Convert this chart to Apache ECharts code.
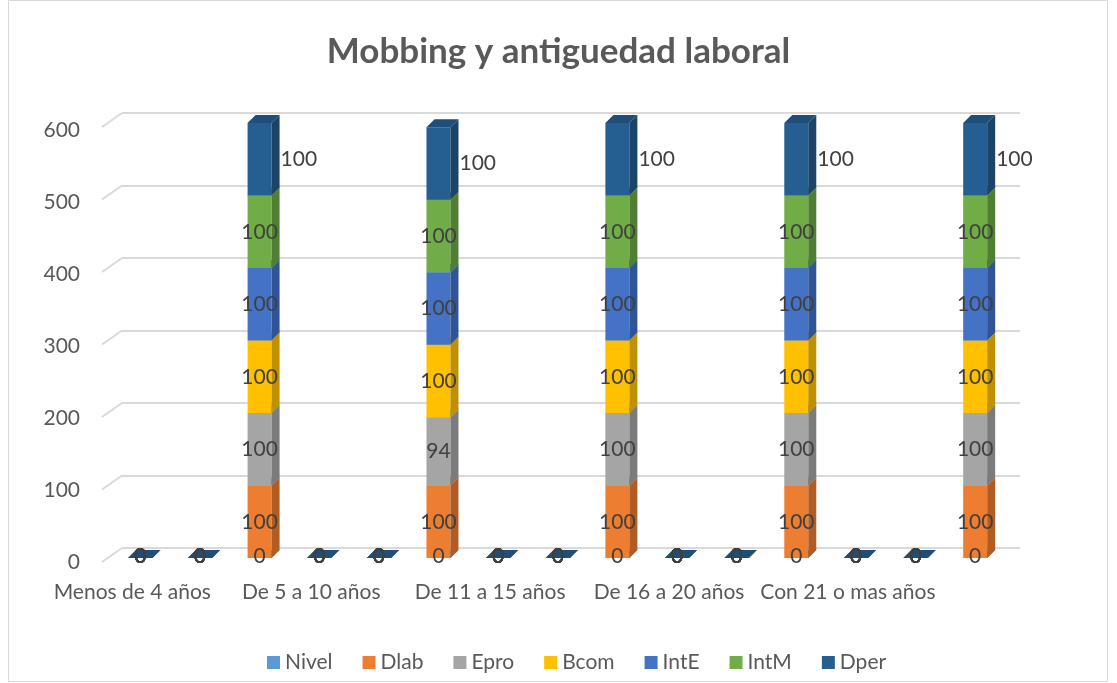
<!DOCTYPE html>
<html>
<head>
<meta charset="utf-8">
<script src="https://cdn.jsdelivr.net/npm/echarts@6/dist/echarts.min.js"></script>
<style>
html,body{margin:0;padding:0;background:#fff;}
#c{width:1117px;height:683px;}
</style>
</head>
<body>
<div id="c"></div>
<script>
const categories = ["Menos de 4 años","","","De 5 a 10 años","","","De 11 a 15 años","","","De 16 a 20 años","","","Con 21 o mas años","",""];
const seriesNames = ["Nivel","Dlab","Epro","Bcom","IntE","IntM","Dper"];
const nivel = [0,0,0,0,0,0,0,0,0,0,0,0,0,0,0];
const dlab  = [0,0,100,0,0,100,0,0,100,0,0,100,0,0,100];
const epro  = [0,0,100,0,0,94,0,0,100,0,0,100,0,0,100];
const bcom  = [0,0,100,0,0,100,0,0,100,0,0,100,0,0,100];
const inte  = [0,0,100,0,0,100,0,0,100,0,0,100,0,0,100];
const intm  = [0,0,100,0,0,100,0,0,100,0,0,100,0,0,100];
const dper  = [0,0,100,0,0,100,0,0,100,0,0,100,0,0,100];
const yTicks = [0,100,200,300,400,500,600];

const seriesValues = [nivel, dlab, epro, bcom, inte, intm, dper];
const colors = ["#5B9BD5","#ED7D31","#A5A5A5","#FFC000","#4472C4","#70AD47","#255E91"];
const sideColors = ["#41719C","#B05C22","#7B7B7B","#BF9000","#2F5597","#507E32","#1B4468"];
const topColors = ["#4F86B8","#D06A28","#919191","#E0A800","#3A62AA","#5F953C","#1F4E79"];
const FONT = "Lato, 'Open Sans', sans-serif";
const TXT = "#595959";
const LABEL_FONT = '21px ' + FONT;

const chart = echarts.init(document.getElementById('c'));

const W = 24, DX = 8, DY = -8;

function makeSeries(k) {
  const vals = seriesValues[k];
  const data = vals.map((v, i) => {
    let base = 0;
    for (let j = 0; j < k; j++) base += seriesValues[j][i];
    return [i, base, v];
  });
  return {
    type: 'custom',
    name: seriesNames[k],
    xAxisIndex: 1, yAxisIndex: 1,
    itemStyle: { color: colors[k] },
    clip: false,
    data: data,
    renderItem: function (params, api) {
      const i = api.value(0), base = api.value(1), v = api.value(2);
      const p0 = api.coord([i, base]);
      const p1 = api.coord([i, base + v]);
      const x0 = p0[0] - W / 2, x1 = p0[0] + W / 2;
      const yb = p0[1], yt = p1[1];
      const children = [];
      if (v > 0) {
        children.push({ type: 'rect', shape: { x: x0, y: yt, width: W, height: yb - yt }, style: { fill: colors[k] } });
        children.push({ type: 'polygon', shape: { points: [[x1, yb], [x1 + DX, yb + DY], [x1 + DX, yt + DY], [x1, yt]] }, style: { fill: sideColors[k] } });
      }
      children.push({ type: 'polygon', shape: { points: [[x0, yt], [x0 + DX, yt + DY], [x1 + DX, yt + DY], [x1, yt]] }, style: { fill: topColors[k] } });
      let tx, ty, align = 'center';
      if (v === 0) { tx = p0[0]; ty = yb - 2; }
      else if (k === seriesValues.length - 1) { tx = x1 + 9; ty = (yb + yt) / 2; align = 'left'; }
      else { tx = p0[0]; ty = (yb + yt) / 2; }
      children.push({ type: 'text', z2: 100, style: { text: String(v), x: tx, y: ty, align: align, verticalAlign: 'middle', fill: '#404040', font: LABEL_FONT } });
      return { type: 'group', children: children };
    }
  };
}

const series = [
  {
    type: 'custom',
    name: 'gridStub',
    xAxisIndex: 0, yAxisIndex: 0,
    silent: true,
    clip: false,
    data: yTicks.map(v => [0, v]),
    renderItem: function (params, api) {
      const p = api.coord([0, api.value(1)]);
      const x = params.coordSys.x;
      return { type: 'line', shape: { x1: x, y1: p[1], x2: x - 20, y2: p[1] + 14 }, style: { stroke: '#D9D9D9', lineWidth: 2 } };
    }
  }
];
for (let k = 0; k < seriesValues.length; k++) series.push(makeSeries(k));

chart.setOption({
  backgroundColor: '#fff',
  animation: false,
  title: {
    text: 'Mobbing y antiguedad laboral',
    left: 'center', top: 29,
    textStyle: { fontFamily: FONT, fontWeight: 'bold', fontSize: 35, color: TXT }
  },
  legend: {
    data: seriesNames.map(n => ({ name: n, icon: 'rect' })),
    bottom: 5, left: 262,
    itemWidth: 13, itemHeight: 13, itemGap: 30,
    textStyle: { fontFamily: FONT, fontSize: 21, color: TXT }
  },
  grid: [
    { left: 122, right: 97, top: 113, bottom: 135 },
    { left: 110.5, right: 112, top: 123, bottom: 125 },
    { left: 80, right: 112, top: 130, bottom: 121 }
  ],
  xAxis: [
    { gridIndex: 0, type: 'value', min: 0, max: 1, show: false },
    {
      gridIndex: 1, type: 'category', data: categories,
      axisLine: { show: false }, axisTick: { show: false },
      axisLabel: { interval: 0, margin: 24, fontFamily: FONT, fontSize: 21, color: TXT, padding: [0, 16, 0, 0] }
    },
    { gridIndex: 2, type: 'value', min: 0, max: 1, show: false }
  ],
  yAxis: [
    {
      gridIndex: 0, type: 'value', min: 0, max: 600, interval: 100,
      axisLabel: { show: false }, axisLine: { show: false }, axisTick: { show: false },
      splitLine: { lineStyle: { color: '#D9D9D9', width: 2 } }
    },
    {
      gridIndex: 1, type: 'value', min: 0, max: 600, interval: 100,
      axisLine: { show: false }, axisTick: { show: false }, splitLine: { show: false },
      axisLabel: { show: false }
    },
    {
      gridIndex: 2, type: 'value', min: 0, max: 600, interval: 100,
      axisLine: { show: false }, axisTick: { show: false }, splitLine: { show: false },
      axisLabel: { show: true, margin: 0, fontFamily: FONT, fontSize: 21, color: TXT }
    }
  ],
  graphic: [
    { type: 'rect', silent: true, z: -1, shape: { x: 8.5, y: 0.5, width: 1099, height: 681 }, style: { fill: null, stroke: '#D9D9D9', lineWidth: 1 } }
  ],
  series: series
});
</script>
</body>
</html>
